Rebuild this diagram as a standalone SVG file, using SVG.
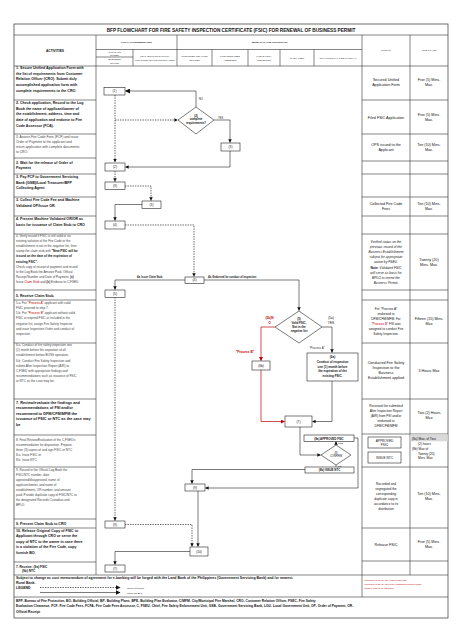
<svg xmlns="http://www.w3.org/2000/svg" width="474" height="632" viewBox="0 0 474 632">
<style>
text{font-family:"Liberation Sans",Arial,sans-serif;fill:#111}
.a{font-size:3.6px;font-weight:bold}
.r{font-size:3.3px;fill:#444}
.h{font-size:2.4px;fill:#333;text-anchor:middle}
.hb{font-size:2.8px;font-weight:bold;text-anchor:middle}
.o{font-size:3.7px;text-anchor:middle}
.oi{font-size:3.3px;text-anchor:middle;font-style:italic}
.n{font-size:3.2px;text-anchor:middle}
.nb{font-size:3.2px;text-anchor:middle;font-weight:bold}
.red{fill:#c00000}
.grid line{stroke:#333;stroke-width:0.6}
.box{fill:#fff;stroke:#222;stroke-width:0.6}
.sol{fill:none;stroke:#222;stroke-width:0.6}
.das{fill:none;stroke:#222;stroke-width:0.7;stroke-dasharray:1.4 1.1}
.rl{fill:none;stroke:#c00000;stroke-width:0.7}
</style>
<defs>
<marker id="ar" viewBox="0 0 10 10" refX="9" refY="5" markerWidth="3.5" markerHeight="3.5" markerUnits="userSpaceOnUse" orient="auto"><path d="M0,0L10,5L0,10z" fill="#111"/></marker>
<marker id="arr" viewBox="0 0 10 10" refX="9" refY="5" markerWidth="4" markerHeight="4" markerUnits="userSpaceOnUse" orient="auto"><path d="M0,0L10,5L0,10z" fill="#c00000"/></marker>
<marker id="arb" viewBox="0 0 10 10" refX="9" refY="5" markerWidth="5" markerHeight="5" markerUnits="userSpaceOnUse" orient="auto"><path d="M0,0L10,5L0,10z" fill="#111"/></marker>
</defs>
<rect width="474" height="632" fill="#fff"/>

<g class="grid">
<rect x="14" y="24" width="434" height="594" fill="none" stroke="#333" stroke-width="0.7"/>
<line x1="14" y1="35" x2="448" y2="35"/>
<line x1="96" y1="35" x2="96" y2="575"/>
<line x1="177" y1="35" x2="177" y2="66"/>
<line x1="96" y1="49.5" x2="362" y2="49.5"/>
<line x1="96" y1="57" x2="133" y2="57"/>
<line x1="133" y1="49.5" x2="133" y2="66"/>
<line x1="212" y1="49.5" x2="212" y2="66"/>
<line x1="248" y1="49.5" x2="248" y2="66"/>
<line x1="280" y1="49.5" x2="280" y2="66"/>
<line x1="314" y1="49.5" x2="314" y2="66"/>
<line x1="362" y1="35" x2="362" y2="597"/>
<line x1="410" y1="35" x2="410" y2="575"/>
<line x1="14" y1="66" x2="448" y2="66"/>
<line x1="14" y1="100" x2="96" y2="100"/>
<line x1="14" y1="134" x2="96" y2="134"/>
<line x1="14" y1="158" x2="96" y2="158"/>
<line x1="14" y1="174" x2="96" y2="174"/>
<line x1="14" y1="197" x2="96" y2="197"/>
<line x1="14" y1="216" x2="96" y2="216"/>
<line x1="14" y1="234" x2="96" y2="234"/>
<line x1="14" y1="290" x2="96" y2="290"/>
<line x1="14" y1="300" x2="96" y2="300"/>
<line x1="14" y1="343" x2="96" y2="343"/>
<line x1="14" y1="399" x2="96" y2="399"/>
<line x1="14" y1="435" x2="96" y2="435"/>
<line x1="14" y1="467" x2="96" y2="467"/>
<line x1="14" y1="519" x2="96" y2="519"/>
<line x1="14" y1="528" x2="96" y2="528"/>
<line x1="14" y1="562" x2="96" y2="562"/>
<line x1="362" y1="100" x2="448" y2="100"/>
<line x1="362" y1="134" x2="448" y2="134"/>
<line x1="362" y1="161" x2="448" y2="161"/>
<line x1="362" y1="174" x2="448" y2="174"/>
<line x1="362" y1="197" x2="448" y2="197"/>
<line x1="362" y1="216" x2="448" y2="216"/>
<line x1="362" y1="234" x2="448" y2="234"/>
<line x1="362" y1="290" x2="448" y2="290"/>
<line x1="362" y1="300" x2="448" y2="300"/>
<line x1="362" y1="343" x2="448" y2="343"/>
<line x1="362" y1="399" x2="448" y2="399"/>
<line x1="362" y1="434" x2="448" y2="434"/>
<line x1="362" y1="467" x2="448" y2="467"/>
<line x1="362" y1="528" x2="448" y2="528"/>
<line x1="362" y1="561" x2="448" y2="561"/>
<line x1="14" y1="575" x2="448" y2="575"/>
<line x1="14" y1="597" x2="448" y2="597"/>
</g>
<rect x="410.3" y="434.3" width="37.4" height="7" fill="#d9d9d9"/>

<text x="231" y="31.5" style="font-size:4.7px;font-weight:bold;text-anchor:middle">BFP FLOWCHART FOR FIRE SAFETY INSPECTION CERTIFICATE (FSIC) FOR RENEWAL OF BUSINESS PERMIT</text>
<text x="55" y="51.5" style="font-size:3.3px;font-weight:bold;text-anchor:middle">ACTIVITIES</text>
<text class="hb" x="136.5" y="43" style="font-size:2.3px">LOCAL GOVERNMENT UNIT</text>
<text class="hb" x="269.5" y="43" style="font-size:2.3px">BUREAU OF FIRE PROTECTION</text>
<text class="h" x="114.5" y="52.6">APPLICANT/</text>
<text class="h" x="114.5" y="55.8">OWNER</text>
<text class="h" x="114.5" y="60">BUSINESS</text>
<text class="h" x="114.5" y="63.5">OFFICE</text>
<text class="h" x="155" y="56.5" style="font-size:2.1px">GOVT. SERVICING BANK/CITY</text>
<text class="h" x="155" y="60.5" style="font-size:2.1px">TREASURER/ BFP COLLECTING AGENT</text>
<text class="h" x="194.5" y="57">CUSTOMER RELATION</text>
<text class="h" x="194.5" y="60.5">OFFICER</text>
<text class="h" x="230" y="57">FIRE CODE FEES</text>
<text class="h" x="230" y="60.5">ASSESSOR</text>
<text class="h" x="264" y="57">FIRE SAFETY</text>
<text class="h" x="264" y="60.5">INSPECTOR</text>
<text class="h" x="297" y="58.5">CHIEF, FSEU</text>
<text class="h" x="338" y="58.5">CITY/MUNICIPAL FIRE MARSHAL</text>
<text class="h" x="386" y="51">OUTPUT</text>
<text class="h" x="429" y="51">TIME FRAME</text>

<g id="activities">
<text class="a" x="16" y="69"><tspan x="16">1. Secure Unified Application Form with</tspan><tspan x="16" dy="5.7">the list of requirements from Customer</tspan><tspan x="16" dy="5.7">Relation Officer (CRO). Submit duly</tspan><tspan x="16" dy="5.7">accomplished application form with</tspan><tspan x="16" dy="5.7">complete requirements to the CRO.</tspan></text>
<text class="a" x="16" y="104"><tspan x="16">2. Check application, Record to the Log</tspan><tspan x="16" dy="5.7">Book the name of applicant/owner of</tspan><tspan x="16" dy="5.7">the establishment, address, time and</tspan><tspan x="16" dy="5.7">date of application and endorse to Fire</tspan><tspan x="16" dy="5.7">Code Assessor (FCA).</tspan></text>
<text class="r" x="16" y="138"><tspan x="16">3. Assess Fire Code Fees (FCF) and issue</tspan><tspan x="16" dy="5">Order of Payment to the applicant and</tspan><tspan x="16" dy="5">return application with complete documents</tspan><tspan x="16" dy="5">to CRO.</tspan></text>
<text class="a" x="16" y="163.5"><tspan x="16">2. Wait for the release of Order of</tspan><tspan x="16" dy="5.5">Payment</tspan></text>
<text class="a" x="16" y="178"><tspan x="16">3. Pay FCF to Government Servicing</tspan><tspan x="16" dy="5.5">Bank (GSB)/Local Treasurer/BFP</tspan><tspan x="16" dy="5.5">Collecting Agent</tspan></text>
<text class="a" x="16" y="201"><tspan x="16">3. Collect Fire Code Fee and Machine</tspan><tspan x="16" dy="5.5">Validated OP/Issue OR.</tspan></text>
<text class="a" x="16" y="220"><tspan x="16">4. Present Machine Validated OR/OR as</tspan><tspan x="16" dy="5.5">basis for issuance of Claim Stub to CRO</tspan></text>
<text class="r" x="16" y="237" style="font-size:3.1px"><tspan x="16">4. Verify record if FSIC is still valid or no</tspan><tspan x="16" dy="5.1">existing violation of the Fire Code or the</tspan><tspan x="16" dy="5.1">establishment is not in the negative list, then</tspan><tspan x="16" dy="5.1">stamp the claim stub with <tspan font-weight="bold" fill="#111">"New FSIC will be</tspan></tspan><tspan x="16" dy="5.1" font-weight="bold" fill="#111">issued on the date of the expiration of</tspan><tspan x="16" dy="5.1" font-weight="bold" fill="#111">existing FSIC".</tspan><tspan x="16" dy="5.1">Check copy of receipt of payment and record</tspan><tspan x="16" dy="5.1">to the Log Book the Amount Paid, Official</tspan><tspan x="16" dy="5.1">Receipt Number and Date of Payment, <tspan font-weight="bold">(a)</tspan></tspan><tspan x="16" dy="5.1">Issue <tspan class="red">Claim Stub</tspan> and <tspan font-weight="bold">(b)</tspan> Endorse to C,FSEU</tspan></text>
<text class="a" x="16" y="296.5">5. Receive Claim Stub.</text>
<text class="r" x="16" y="304" style="font-size:3.1px"><tspan x="16">5.a. For <tspan class="red">"Process A"</tspan> applicant with valid</tspan><tspan x="16" dy="5">FSIC proceed to step 7.</tspan><tspan x="16" dy="5">5.b. For <tspan class="red">"Process B"</tspan> applicant without valid</tspan><tspan x="16" dy="5.3">FSIC or expired FSIC or included in the</tspan><tspan x="16" dy="5.3">negative list, assign Fire Safety Inspector</tspan><tspan x="16" dy="5.3">and issue Inspection Order and conduct of</tspan><tspan x="16" dy="5.3">inspection.</tspan></text>
<text class="r" x="16" y="346" style="font-size:3.1px"><tspan x="16">6.a. Conduct of fire safety inspection one</tspan><tspan x="16" dy="5.1">(1) month before the expiration of all</tspan><tspan x="16" dy="5.1">establishment before BOSS operation.</tspan><tspan x="16" dy="5.4">6.b. Conduct Fire Safety Inspection and</tspan><tspan x="16" dy="5.1">submit After Inspection Report (AIR) to</tspan><tspan x="16" dy="5.1">C,FSEU with appropriate findings and</tspan><tspan x="16" dy="5.1">recommendations such as issuance of FSIC</tspan><tspan x="16" dy="5.1">or NTC as the case may be.</tspan></text>
<text class="a" x="16" y="403.5" style="font-size:3.8px"><tspan x="16">7. Review/evaluate the findings and</tspan><tspan x="16" dy="5.6">recommendations of FSI and/or</tspan><tspan x="16" dy="5.6">recommend to DFM/CFM/MFM the</tspan><tspan x="16" dy="5.6">issuance of FSIC or NTC as the case may</tspan><tspan x="16" dy="5.6">be</tspan></text>
<text class="r" x="16" y="441" style="font-size:3.1px"><tspan x="16">8. Final Review/Evaluation of the C,FSEU's</tspan><tspan x="16" dy="5.1">recommendation for disposition. Prepare</tspan><tspan x="16" dy="5.1">three (3) copies of and sign FSIC or NTC</tspan><tspan x="16" dy="5.1">8.a. Issue FSIC or</tspan><tspan x="16" dy="5.1">8.b. Issue NTC</tspan></text>
<text class="r" x="16" y="471" style="font-size:3.1px"><tspan x="16">9. Record in the Official Log Book the</tspan><tspan x="16" dy="5">FSIC/NTC number, date</tspan><tspan x="16" dy="5">approved/disapproved, name of</tspan><tspan x="16" dy="5">applicant/owner, and name of</tspan><tspan x="16" dy="5">establishment, OR number, and amount</tspan><tspan x="16" dy="5">paid. Provide duplicate copy of FSIC/NTC to</tspan><tspan x="16" dy="5">the designated Records Custodian and</tspan><tspan x="16" dy="5">BPLO.</tspan></text>
<text class="a" x="16" y="525">9. Present Claim Stub to CRO</text>
<text class="a" x="16" y="532"><tspan x="16">10. Release Original Copy of FSIC to</tspan><tspan x="16" dy="5.4">Applicant through CRO or serve the</tspan><tspan x="16" dy="5.4">copy of NTC to the owner in case there</tspan><tspan x="16" dy="5.4">is a violation of the Fire Code, copy</tspan><tspan x="16" dy="5.4">furnish BO.</tspan></text>
<text class="a" x="16" y="567.5" style="font-size:3.2px"><tspan x="16">7. Receive: (9a) FSIC</tspan><tspan x="22" dy="4.8">(9b) NTC</tspan></text>
</g>

<g id="outputs">
<text class="o" x="386" y="80.5"><tspan x="386">Secured Unified</tspan><tspan x="386" dy="5.3">Application Form</tspan></text>
<text class="o" x="429" y="80.5"><tspan x="429">Five (5) Mins.</tspan><tspan x="429" dy="5.3">Max.</tspan></text>
<text class="o" x="386" y="118.5">Filed FSIC Application</text>
<text class="o" x="429" y="115.5"><tspan x="429">Five (5) Mins.</tspan><tspan x="429" dy="5.3">Max.</tspan></text>
<text class="o" x="386" y="146"><tspan x="386">OPS issued to the</tspan><tspan x="386" dy="5.3">Applicant</tspan></text>
<text class="o" x="429" y="146"><tspan x="429">Ten (10) Mins.</tspan><tspan x="429" dy="5.3">Max.</tspan></text>
<text class="o" x="386" y="204.5"><tspan x="386">Collected Fire Code</tspan><tspan x="386" dy="5.3">Fees</tspan></text>
<text class="o" x="429" y="204.5"><tspan x="429">Ten (10) Mins.</tspan><tspan x="429" dy="5.3">Max.</tspan></text>
<text class="oi" x="386" y="243"><tspan x="386">Verified status on the</tspan><tspan x="386" dy="5.1">previous record of the</tspan><tspan x="386" dy="5.1">Business Establishment</tspan><tspan x="386" dy="5.1">subject for appropriate</tspan><tspan x="386" dy="5.1">action by FSEU.</tspan><tspan x="386" dy="5.1"><tspan font-weight="bold" font-style="normal">Note</tspan>: Validated FSIC</tspan><tspan x="386" dy="5.1">will serve as basis for</tspan><tspan x="386" dy="5.1">BPLO to renew the</tspan><tspan x="386" dy="5.1">Business Permit.</tspan></text>
<text class="o" x="429" y="260.5"><tspan x="429">Twenty (20)</tspan><tspan x="429" dy="5.3">Mins. Max.</tspan></text>
<text class="n" x="386" y="309.5"><tspan x="386">For "Process A"</tspan><tspan x="386" dy="5">endorsed to</tspan><tspan x="386" dy="5">DFM/CFM/MFM. For</tspan><tspan x="386" dy="5"><tspan class="red">"Process B"</tspan> FSI was</tspan><tspan x="386" dy="5">assigned to conduct Fire</tspan><tspan x="386" dy="5">Safety Inspection.</tspan></text>
<text class="o" x="429" y="319.5"><tspan x="429">Fifteen (15) Mins.</tspan><tspan x="429" dy="5.3">Max</tspan></text>
<text class="o" x="386" y="363.5"><tspan x="386">Conducted Fire Safety</tspan><tspan x="386" dy="5.3">Inspection to the</tspan><tspan x="386" dy="5.3">Business</tspan><tspan x="386" dy="5.3">Establishment applied</tspan></text>
<text class="o" x="429" y="372">3 Hours Max</text>
<text class="n" x="386" y="406.5"><tspan x="386">Received the submitted</tspan><tspan x="386" dy="5">After Inspection Report</tspan><tspan x="386" dy="5">(AIR) from FSI and/or</tspan><tspan x="386" dy="5">endorsed to</tspan><tspan x="386" dy="5">DFM/CFM/MFM</tspan></text>
<text class="o" x="429" y="413.5"><tspan x="429">Two (2) Hours</tspan><tspan x="429" dy="5.3">Max</tspan></text>
<rect class="box" x="368" y="437" width="33" height="11"/>
<text class="n" x="384.5" y="441.5"><tspan x="384.5">APPROVED</tspan><tspan x="384.5" dy="4">FSIC</tspan></text>
<rect class="box" x="368" y="452" width="33" height="11"/>
<text class="n" x="384.5" y="458.8">ISSUE  NTC</text>
<text class="n" x="412" y="439.8" style="text-anchor:start"><tspan x="412">(8a) Max. of Two</tspan><tspan x="418" dy="4.9">(2) hours</tspan><tspan x="412" dy="4.9">(8b) Max of</tspan><tspan x="418" dy="4.9">Twenty (20)</tspan><tspan x="418" dy="4.9">Mins. Max</tspan></text>
<text class="n" x="386" y="485"><tspan x="386">Recorded and</tspan><tspan x="386" dy="5">segregated the</tspan><tspan x="386" dy="5">corresponding</tspan><tspan x="386" dy="5">duplicate copy in</tspan><tspan x="386" dy="5">accordance to its</tspan><tspan x="386" dy="5">distribution</tspan></text>
<text class="o" x="429" y="495"><tspan x="429">Ten (10) Mins.</tspan><tspan x="429" dy="5.3">Max.</tspan></text>
<text class="o" x="386" y="546">Release     FSIC</text>
<text class="o" x="429" y="543"><tspan x="429">Five (5) Mins.</tspan><tspan x="429" dy="5.3">Max.</tspan></text>
</g>

<text x="16" y="579" style="font-size:3.5px;font-weight:bold"><tspan x="16">Subject to change as cost memorandum of agreement for e-banking will be forged with the Land Bank of the Philippines (Government Servicing Bank) and /or nearest</tspan><tspan x="16" dy="5">Rural Bank.</tspan><tspan x="16" dy="5">LEGEND</tspan></text>
<path class="das" d="M40,587.5H120" marker-end="url(#arb)"/>
<path class="sol" d="M40,592.5H120" stroke-width="0.8" marker-end="url(#arb)"/>
<text x="126" y="588.5" style="font-size:2.4px">Activity for Client</text>
<text x="126" y="593.5" style="font-size:2.4px">Activity for BFP</text>
<text class="red" x="364" y="581" style="font-size:2.2px"><tspan x="364">*Maximum of two (2) day if FSIC is still valid.</tspan><tspan x="364" dy="4">*Maximum of two (2) days if the establishment has pending</tspan><tspan x="364" dy="4">violation, subject for inspection.</tspan></text>
<text x="16" y="602" style="font-size:3.3px;font-weight:bold"><tspan x="16">BFP- Bureau of Fire Protection, BO- Building Official, BP- Building Plans, BPE- Building Plan Evaluator, C/MFM- City/Municipal Fire Marshal, CRO- Customer Relation Officer, FSEC- Fire Safety</tspan><tspan x="16" dy="5.4">Evaluation Clearance, FCF- Fire Code Fees, FCFA- Fire Code Fees Assessor, C, FSEU- Chief, Fire Safety Enforcement Unit, GSB- Government Servicing Bank, LGU- Local Government Unit, OP- Order of Payment, OR-</tspan><tspan x="16" dy="5.4">Official Receipt</tspan></text>

<g id="connectors">
<path class="das" d="M115,95V162" marker-end="url(#ar)"/>
<path class="das" d="M115,120H177.5" marker-end="url(#ar)"/>
<path class="das" d="M115,171V181.5" marker-end="url(#ar)"/>
<path class="das" d="M125,186H151V200.5" marker-end="url(#ar)"/>
<path class="das" d="M125,225H194V276.5" marker-end="url(#ar)"/>
<path class="das" d="M115,297V520.5" marker-end="url(#ar)"/>
<path class="das" d="M125,524.5H192V546.5" marker-end="url(#ar)"/>
<path class="sol" d="M196,107V91H125.5" marker-end="url(#arb)"/>
<path class="sol" d="M214,120H230V142.5" marker-end="url(#ar)"/>
<path class="sol" d="M230,151V167H125.5" marker-end="url(#ar)"/>
<path class="sol" d="M142,204.5H115V220.5" marker-end="url(#ar)"/>
<path class="sol" d="M185,280H115V289.5" marker-end="url(#ar)"/>
<path class="sol" d="M204,280H299V310.5" marker-end="url(#ar)"/>
<path class="rl" d="M275,327H261V360.5" marker-end="url(#arr)"/>
<path class="rl" d="M261,370V421.5H284.5" marker-end="url(#arr)"/>
<path class="sol" d="M322,327H332V352.5" marker-end="url(#ar)"/>
<path class="sol" d="M332,381V421.5H312.5" marker-end="url(#ar)"/>
<path class="sol" d="M300,427V455H320.5" marker-end="url(#ar)"/>
<path class="sol" d="M336,445V441.5" marker-end="url(#ar)"/>
<path class="sol" d="M336,465V466.8"/>
<path class="sol" d="M354,438H358V488H205.5" marker-end="url(#ar)"/>
<path class="sol" d="M305,469.5H192V483.5" marker-end="url(#ar)"/>
<path class="sol" d="M198,491V546.5" marker-end="url(#ar)"/>
<path class="sol" d="M190,551.5H115V564.5" marker-end="url(#ar)"/>
<text x="199" y="100" style="font-size:2.6px">NO</text>
<text x="218" y="118.5" style="font-size:2.6px">YES</text>
<text x="137" y="278" style="font-size:2.6px;font-weight:bold">4a. Issue Claim Stub</text>
<text x="208" y="278" style="font-size:2.6px;font-weight:bold">4b. Endorsed for conduct of inspection</text>
<text class="red" x="269.5" y="318.5" style="font-size:3.2px;font-weight:bold;text-anchor:middle"><tspan x="269.5">(5b)N</tspan><tspan x="269.5" dy="5">O</tspan></text>
<text class="red" x="245" y="353" style="font-size:3.2px;font-weight:bold;text-anchor:middle">"Process B"</text>
<text x="331" y="318.5" style="font-size:3.2px;text-anchor:middle"><tspan x="331">(5a)</tspan><tspan x="331" dy="5">YES</tspan></text>
<text x="317" y="349" style="font-size:3px;text-anchor:middle;fill:#333">"Process A"</text>
<text x="338" y="444" style="font-size:2.4px">YES</text>
<text x="338" y="467" style="font-size:2.4px">NO</text>
</g>

<g id="n1"><rect class="box" x="104" y="87.5" width="21" height="7.5"/><text class="n" x="114.5" y="92.3">(1)</text></g>
<g id="d2"><path class="box" d="M196,107L214,120L196,134L178,120Z"/><text class="nb" x="196" y="116.5" style="font-size:2.9px"><tspan x="196">(2)</tspan><tspan x="196" dy="3.8">complete</tspan><tspan x="196" dy="3.8">requirements?</tspan></text></g>
<g id="n3f"><rect class="box" x="221" y="143" width="19" height="8"/><text class="n" x="230.5" y="148">(3)</text></g>
<g id="n2a"><rect class="box" x="105" y="163" width="20" height="8"/><text class="n" x="115" y="168">(2)</text></g>
<g id="n3a"><rect class="box" x="105" y="182" width="20" height="7.5"/><text class="n" x="115" y="186.8">(3)</text></g>
<g id="n3g"><rect class="box" x="142" y="201" width="19" height="7.5"/><text class="n" x="151.5" y="205.8">(3)</text></g>
<g id="n4a"><rect class="box" x="105" y="221" width="20" height="8"/><text class="n" x="115" y="226">(4)</text></g>
<g id="n4c"><rect class="box" x="185" y="277" width="19" height="6.5"/><text class="n" x="194.5" y="281.3">(4)</text></g>
<g id="n5a"><rect class="box" x="105" y="290" width="20" height="7.5"/><text class="n" x="115" y="294.8">(5)</text></g>
<g id="d5"><path class="box" d="M299,311L322,327L299,343L275,327Z"/><text class="nb" x="299" y="319.5" style="font-size:2.9px"><tspan x="299">(5)</tspan><tspan x="299" dy="4">Valid FSIC,</tspan><tspan x="299" dy="4">Not in the</tspan><tspan x="299" dy="4">negative list</tspan></text></g>
<g id="n6b"><rect class="box" x="252" y="361" width="18" height="9"/><text class="n" x="261" y="366.5">(6b)</text></g>
<g id="n6a"><rect class="box" x="307" y="353" width="51" height="28"/><text class="nb" x="332.5" y="358" style="font-size:3px"><tspan x="332.5">(6a)</tspan><tspan x="332.5" dy="4.8">Conduct of inspection</tspan><tspan x="332.5" dy="4.8">one (1) month before</tspan><tspan x="332.5" dy="4.8">the  expiration of the</tspan><tspan x="332.5" dy="4.8">existing FSIC.</tspan></text></g>
<g id="n7"><rect class="box" x="285" y="416" width="27" height="11"/><text class="n" x="298.5" y="422.5">(7)</text></g>
<g id="n8a"><rect class="box" x="304" y="435" width="50" height="6.5"/><text class="nb" x="329" y="439.5" style="font-size:2.9px">(8a)  APPROVED FSIC</text></g>
<g id="d8"><path class="box" d="M336,445L351,455L336,465L321,455Z"/><text class="n" x="336" y="453.5" style="font-size:2.6px"><tspan x="336">(8)</tspan><tspan x="336" dy="3.4">CONFIRM</tspan></text></g>
<g id="n8b"><rect class="box" x="305" y="467" width="49" height="6"/><text class="nb" x="329.5" y="471" style="font-size:2.9px">(8b) ISSUE  NTC</text></g>
<g id="n9"><rect class="box" x="185" y="484" width="20" height="7"/><text class="n" x="195" y="488.5">(9)</text></g>
<g id="n9a"><rect class="box" x="105" y="521" width="20" height="7"/><text class="n" x="115" y="525.5">(9)</text></g>
<g id="n10"><rect class="box" x="190" y="547" width="18" height="9"/><text class="n" x="199" y="552.5">(10)</text></g>
<g id="n7a"><rect class="box" x="105" y="565" width="20" height="7"/><text class="n" x="115" y="569.5">(7)</text></g>
</svg>
